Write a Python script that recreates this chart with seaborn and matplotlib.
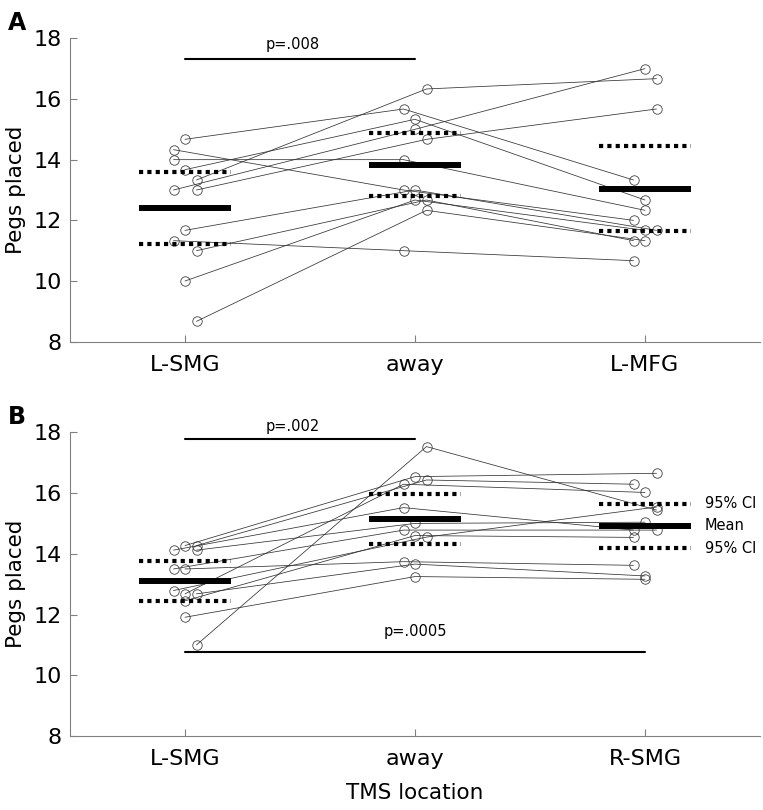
import matplotlib
matplotlib.use("Agg")
import matplotlib.pyplot as plt
import seaborn as sns
import numpy as np
import pandas as pd

# ---- data ----
sites_A = ["L-SMG", "away", "L-MFG"]
sites_B = ["L-SMG", "away", "R-SMG"]

# panel A: one entry per subject
A_lsmg = [14.67, 14.33, 14.00, 13.67, 13.33, 13.00, 13.00, 11.67, 11.33, 11.00, 10.00, 8.67]
A_away = [15.67, 13.00, 14.00, 15.33, 16.33, 15.00, 14.67, 13.00, 11.00, 12.67, 12.67, 12.33]
A_lmfg = [13.33, 12.00, 12.33, 12.67, 16.67, 17.00, 15.67, 11.67, 10.67, 11.33, 11.67, 11.33]
A_mean = [12.40, 13.81, 13.04]
A_ci_lo = [11.23, 12.81, 11.65]
A_ci_hi = [13.58, 14.87, 14.44]

# panel B
B_lsmg = [11.00, 12.68, 14.27, 14.27, 14.12, 14.12, 13.50, 12.79, 12.45, 13.50, 12.68, 11.91]
B_away = [17.53, 16.29, 16.54, 16.43, 15.52, 15.00, 14.78, 14.55, 14.60, 13.74, 13.66, 13.25]
B_rsmg = [15.44, 16.02, 16.65, 16.29, 14.78, 15.04, 14.78, 15.54, 14.54, 13.62, 13.27, 13.16]
B_mean = [13.10, 15.15, 14.93]
B_ci_lo = [12.45, 14.31, 14.18]
B_ci_hi = [13.76, 15.98, 15.65]

# horizontal jitter codes (-1 / 0 / +1) for the individual points
jit_A = [[0, -1, -1, 0, 1, -1, 1, 0, -1, 1, 0, 1],
         [-1, -1, -1, 0, 1, 0, 1, 0, -1, 1, 0, 1],
         [-1, -1, 0, 0, 1, 0, 1, 1, -1, -1, 0, 0]]
jit_B = [[1, 0, 0, 1, -1, 1, -1, -1, 0, 0, 1, 0],
         [1, -1, 0, 1, -1, 0, -1, 1, 0, -1, 0, 0],
         [1, 0, 1, -1, -1, 0, 1, 1, -1, -1, 0, 0]]


def long_df(cols, jit):
    rows = []
    for s in range(len(cols[0])):
        for k in range(3):
            rows.append({"subj": s, "x": k + 0.05 * jit[k][s], "pegs": cols[k][s]})
    return pd.DataFrame(rows)


sns.set_style("white")
plt.rcParams["font.family"] = ["DejaVu Sans"]
plt.rcParams["text.color"] = "black"
plt.rcParams["axes.labelcolor"] = "black"

fig = plt.figure(figsize=(7.63, 8.10), dpi=100)
axA = fig.add_axes([70 / 763, (810 - 341.7) / 810, 690 / 763, 303.4 / 810])
axB = fig.add_axes([70 / 763, (810 - 736) / 810, 690 / 763, 303.7 / 810])


def draw_panel(ax, cols, jit, mean, lo, hi, sites):
    df = long_df(cols, jit)
    sns.lineplot(data=df, x="x", y="pegs", units="subj", estimator=None, sort=False,
                 color="#333333", lw=0.55, marker="o", ms=6.8, mfc="none",
                 mec="#333333", mew=0.55, ax=ax, zorder=2)
    xs = np.arange(3)
    ax.hlines(mean, xs - 0.2, xs + 0.2, color="k", lw=4.3, zorder=3)
    ax.hlines(lo, xs - 0.2, xs + 0.2, color="k", lw=3, linestyles=(0, (1, 1)), zorder=3)
    ax.hlines(hi, xs - 0.2, xs + 0.2, color="k", lw=3, linestyles=(0, (1, 1)), zorder=3)

    ax.set_xlim(-0.5, 2.5)
    ax.set_ylim(8, 18)
    ax.set_xticks(xs)
    ax.set_xticklabels(sites)
    ax.set_yticks([8, 10, 12, 14, 16, 18])
    ax.set_ylabel("Pegs placed", fontsize=15.5, labelpad=5)
    ax.set_xlabel("")
    ax.tick_params(direction="in", length=5, width=0.8, color="#808080",
                   labelcolor="black", labelsize=16, bottom=True, left=True)
    ax.tick_params(axis="y", pad=6)
    ax.tick_params(axis="x", pad=9.5)
    for side in ["top", "right"]:
        ax.spines[side].set_visible(False)
    for side in ["left", "bottom"]:
        ax.spines[side].set_color("#808080")
        ax.spines[side].set_linewidth(0.8)


draw_panel(axA, [A_lsmg, A_away, A_lmfg], jit_A, A_mean, A_ci_lo, A_ci_hi, sites_A)
draw_panel(axB, [B_lsmg, B_away, B_rsmg], jit_B, B_mean, B_ci_lo, B_ci_hi, sites_B)

# significance bars
axA.plot([0, 1], [17.32, 17.32], color="k", lw=1.5)
axA.text(0.47, 17.78, "p=.008", ha="center", va="center", fontsize=10.5)
axB.plot([0, 1], [17.79, 17.79], color="k", lw=1.5, clip_on=False)
axB.text(0.47, 18.2, "p=.002", ha="center", va="center", fontsize=10.5)
axB.plot([0, 2], [10.75, 10.75], color="k", lw=1.5)
axB.text(1.0, 11.43, "p=.0005", ha="center", va="center", fontsize=10.5)

# legend-style labels next to the R-SMG group
axB.text(2.26, B_ci_hi[2], "95% CI", ha="left", va="center", fontsize=10.5)
axB.text(2.26, B_mean[2], "Mean", ha="left", va="center", fontsize=10.5)
axB.text(2.26, B_ci_lo[2], "95% CI", ha="left", va="center", fontsize=10.5)

axB.set_xlabel("TMS location", fontsize=15.5, labelpad=10)

fig.text(17 / 763, 1 - 23 / 810, "A", fontsize=17, fontweight="bold", ha="center", va="center")
fig.text(17 / 763, 1 - 417 / 810, "B", fontsize=17, fontweight="bold", ha="center", va="center")

fig.savefig("out.png", dpi=100)
